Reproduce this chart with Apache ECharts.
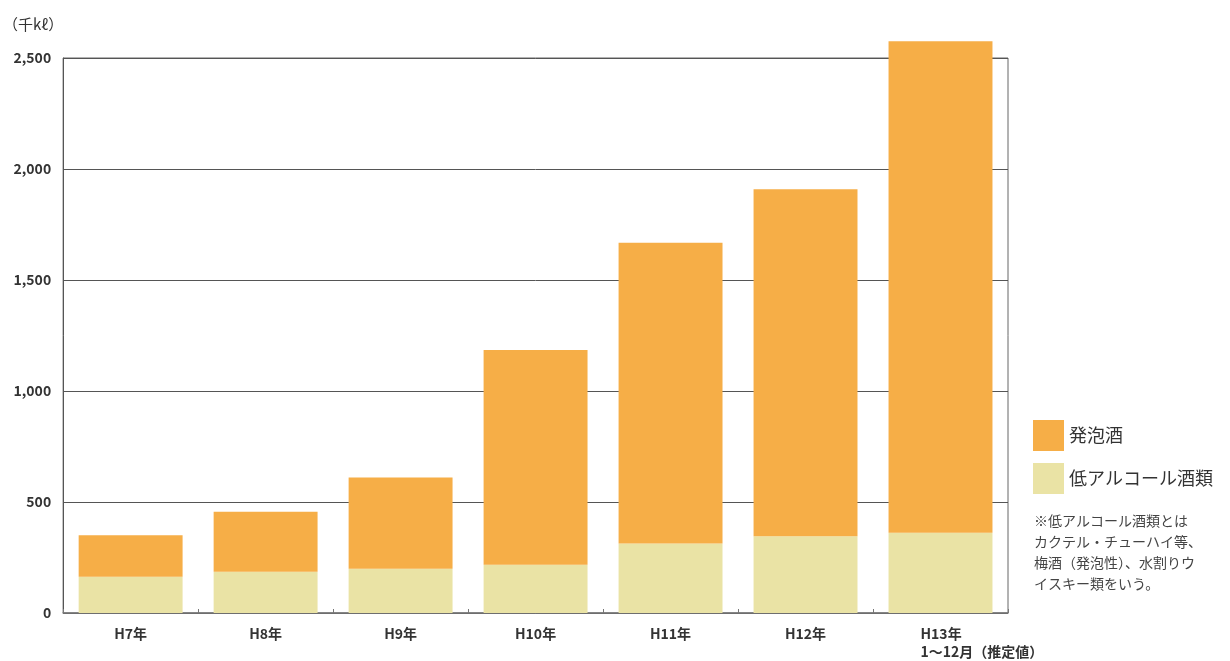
<!DOCTYPE html>
<html>
<head>
<meta charset="utf-8">
<script src="https://cdn.jsdelivr.net/npm/echarts@6/dist/echarts.min.js"></script>
<style>
  html, body { margin: 0; padding: 0; background: #fff; }
  #chart { width: 1230px; height: 661px; }
</style>
</head>
<body>
<div id="chart"></div>
<script>
// 年度別の課税移出数量（千kℓ）
const categories = ['H7年', 'H8年', 'H9年', 'H10年', 'H11年', 'H12年', 'H13年\n1〜12月（推定値）'];
const lowAlcohol = [163, 186, 199, 217, 313, 346, 361];       // 低アルコール酒類
const happoshu = [187, 270, 411, 968, 1355, 1563, 2214];       // 発泡酒
const yTicks = [0, 500, 1000, 1500, 2000, 2500];

const FONT = '"Noto Sans CJK JP", "Noto Sans", sans-serif';
const ORANGE = '#F6AE47';
const PALE = '#EAE3A5';
const last = categories.length - 1;

const chart = echarts.init(document.getElementById('chart'), null, { renderer: 'canvas' });

chart.setOption({
  backgroundColor: '#ffffff',
  animation: false,
  textStyle: { fontFamily: FONT },
  grid: {
    left: 63, right: 222, top: 58, bottom: 47.5,
    show: true, borderColor: '#666', borderWidth: 1
  },
  legend: {
    orient: 'vertical',
    left: 1033, top: 420,
    padding: 0,
    itemWidth: 31, itemHeight: 31, itemGap: 12,
    icon: 'rect',
    data: ['発泡酒', '低アルコール酒類'],
    textStyle: { fontSize: 18, color: '#333', fontFamily: FONT },
    selectedMode: false
  },
  xAxis: {
    type: 'category',
    data: categories.map((c, i) => i === last ? { value: c, textStyle: { width: 40, overflow: 'none' } } : c),
    axisLine: { show: true, lineStyle: { color: '#777', width: 1.5 } },
    axisTick: { show: true, inside: true, interval: 0, length: 4, lineStyle: { color: '#777' } },
    axisLabel: {
      interval: 0,
      margin: 12,
      fontSize: 14, fontWeight: 'bold', color: '#333', fontFamily: FONT, lineHeight: 18,
      formatter: (v, i) => i === last ? '{l|' + v + '}' : v,
      rich: {
        l: { align: 'left', fontSize: 14, fontWeight: 'bold', color: '#333', fontFamily: FONT, lineHeight: 18 }
      }
    },
    splitLine: { show: false }
  },
  yAxis: {
    type: 'value',
    min: 0, max: yTicks[yTicks.length - 1], interval: 500,
    name: '（千kℓ）',
    nameLocation: 'end',
    nameGap: 26,
    nameTextStyle: { fontSize: 15, color: '#333', fontFamily: FONT, align: 'right', padding: [0, 0, 0, 0] },
    axisLine: { show: true, lineStyle: { color: '#555', width: 1 } },
    axisTick: { show: false },
    axisLabel: {
      margin: 12, fontSize: 14, fontWeight: 'bold', color: '#333', fontFamily: FONT,
      formatter: v => v.toLocaleString('en-US')
    },
    splitLine: { show: true, lineStyle: { color: '#555', width: 1 } }
  },
  series: [
    {
      name: '低アルコール酒類',
      type: 'bar',
      stack: 'total',
      data: lowAlcohol,
      barWidth: '77%',
      clip: false,
      itemStyle: { color: PALE }
    },
    {
      name: '発泡酒',
      type: 'bar',
      stack: 'total',
      data: happoshu,
      barWidth: '77%',
      clip: false,
      itemStyle: { color: ORANGE }
    }
  ],
  graphic: [
    {
      type: 'text',
      left: 1034, top: 510,
      style: {
        text: '※低アルコール酒類とは\nカクテル・チューハイ等、\n梅酒（発泡性）、水割りウ\nイスキー類をいう。',
        fontSize: 14, lineHeight: 21, fill: '#444', fontFamily: FONT
      }
    }
  ]
});
</script>
</body>
</html>
